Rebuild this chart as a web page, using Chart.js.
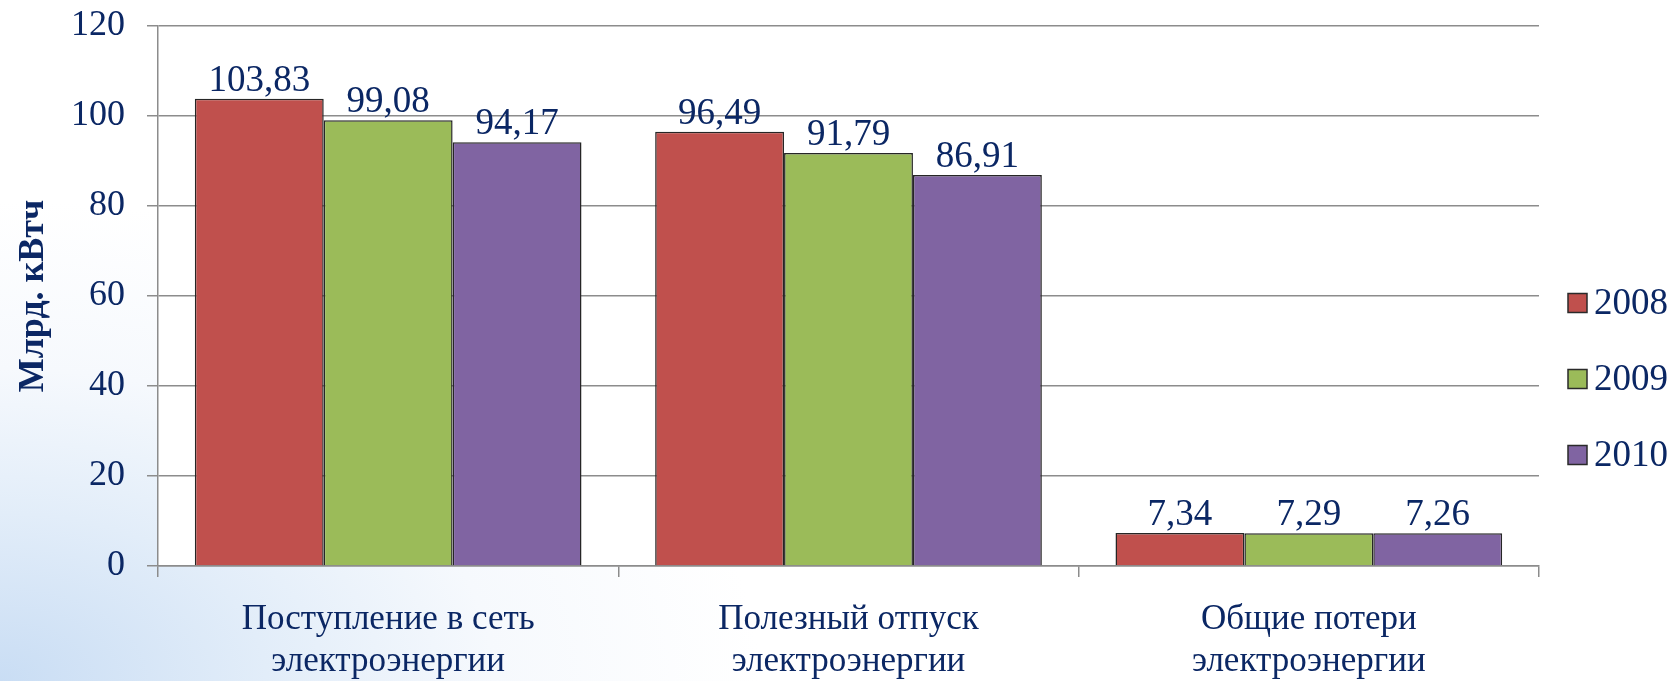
<!DOCTYPE html>
<html>
<head>
<meta charset="utf-8">
<script src="https://cdn.jsdelivr.net/npm/chart.js@4/dist/chart.umd.min.js"></script>
<style>
    html, body {
        margin: 0;
        padding: 0;
        width: 1674px;
        height: 681px;
        overflow: hidden;
        background: radial-gradient(ellipse 760px 480px at 0% 100%, #c9ddf4 0%, #e2edf9 35%, #f6f9fd 65%, #ffffff 100%);
    }
    #wrap { position: relative; width: 1674px; height: 681px; }
</style>
</head>
<body>
<div id="wrap"><canvas id="chart"></canvas></div>
<script>
    var categories = [
        ['Поступление в сеть', 'электроэнергии'],
        ['Полезный отпуск', 'электроэнергии'],
        ['Общие потери', 'электроэнергии']
    ];
    var years = ['2008', '2009', '2010'];
    var values2008 = [103.83, 96.49, 7.34];
    var values2009 = [99.08, 91.79, 7.29];
    var values2010 = [94.17, 86.91, 7.26];
    var yTicks = [0, 20, 40, 60, 80, 100, 120];

    var TEXT = '#0b2764';
    var GRID = '#8c8c8c';
    var SERIF = '"Liberation Serif", "Times New Roman", serif';

    var fmt = function(v) {
        return v.toFixed(2).replace('.', ',');
    };

    // white plot area over the page background
    var plotFill = {
        id: 'plotFill',
        beforeDraw: function(chart) {
            var a = chart.chartArea;
            chart.ctx.save();
            chart.ctx.fillStyle = '#ffffff';
            chart.ctx.fillRect(a.left, a.top, a.right - a.left, a.bottom - a.top);
            chart.ctx.restore();
        }
    };

    var valueLabels = {
        id: 'valueLabels',
        afterDatasetsDraw: function(chart) {
            var ctx = chart.ctx;
            ctx.save();
            ctx.font = '37px ' + SERIF;
            ctx.fillStyle = TEXT;
            ctx.textAlign = 'center';
            ctx.textBaseline = 'alphabetic';
            chart.data.datasets.forEach(function(ds, i) {
                chart.getDatasetMeta(i).data.forEach(function(bar, j) {
                    ctx.fillText(fmt(ds.data[j]), bar.x, bar.y - 8);
                });
            });
            ctx.restore();
        }
    };

    // legend drawn by hand so the items sit where the original has them
    var sideLegend = {
        id: 'sideLegend',
        afterDraw: function(chart, args, opts) {
            var ctx = chart.ctx;
            ctx.save();
            ctx.font = '37px ' + SERIF;
            ctx.textBaseline = 'middle';
            ctx.textAlign = 'left';
            chart.data.datasets.forEach(function(ds, i) {
                var y = opts.top + i * opts.step;
                ctx.fillStyle = ds.backgroundColor;
                ctx.fillRect(opts.x, y - 9.5, 19, 19);
                ctx.strokeStyle = '#2a2a2a';
                ctx.lineWidth = 1.5;
                ctx.strokeRect(opts.x, y - 9.5, 19, 19);
                ctx.fillStyle = TEXT;
                ctx.fillText(ds.label, opts.x + 26, y + 1);
            });
            ctx.restore();
        }
    };

    var makeSet = function(label, data, color) {
        return {
            label: label,
            data: data,
            backgroundColor: color,
            borderColor: '#262626',
            borderWidth: 1.5,
            borderSkipped: 'bottom',
            barPercentage: 1.0,
            categoryPercentage: 0.84
        };
    };

    new Chart(document.getElementById('chart'), {
        type: 'bar',
        data: {
            labels: categories,
            datasets: [
                makeSet(years[0], values2008, '#c0504d'),
                makeSet(years[1], values2009, '#9bbb59'),
                makeSet(years[2], values2010, '#8064a2')
            ]
        },
        options: {
            responsive: true,
            maintainAspectRatio: false,
            animation: false,
            devicePixelRatio: 1,
            layout: { padding: { top: 26, right: 135, bottom: 0, left: 0 } },
            plugins: {
                legend: { display: false },
                tooltip: { enabled: false },
                sideLegend: { x: 1568, top: 303, step: 76 }
            },
            scales: {
                x: {
                    grid: {
                        offset: true,
                        drawOnChartArea: false,
                        color: GRID,
                        lineWidth: 1.5,
                        tickLength: 11
                    },
                    border: { color: GRID, width: 1.5 },
                    ticks: {
                        color: TEXT,
                        padding: 21,
                        maxRotation: 0,
                        font: { family: SERIF, size: 35, lineHeight: 1.22 }
                    },
                    afterFit: function(s) { s.height = 115; }
                },
                y: {
                    min: 0,
                    max: 120,
                    afterBuildTicks: function(s) {
                        s.ticks = yTicks.map(function(v) { return { value: v }; });
                    },
                    grid: { color: GRID, lineWidth: 1.5, tickLength: 11 },
                    border: { color: GRID, width: 1.5 },
                    ticks: {
                        color: TEXT,
                        padding: 22,
                        font: { family: SERIF, size: 36 }
                    },
                    title: {
                        display: true,
                        text: 'Млрд. кВтч',
                        color: TEXT,
                        padding: { top: 12, bottom: 0 },
                        font: { family: SERIF, size: 36, weight: 'bold', lineHeight: 1.2 }
                    },
                    afterFit: function(s) {
                        s.width = 158;
                        // the label padding would otherwise push the plot top down
                        s.paddingTop = 10;
                        s.paddingBottom = 10;
                    }
                }
            }
        },
        plugins: [plotFill, valueLabels, sideLegend]
    });
</script>
</body>
</html>
